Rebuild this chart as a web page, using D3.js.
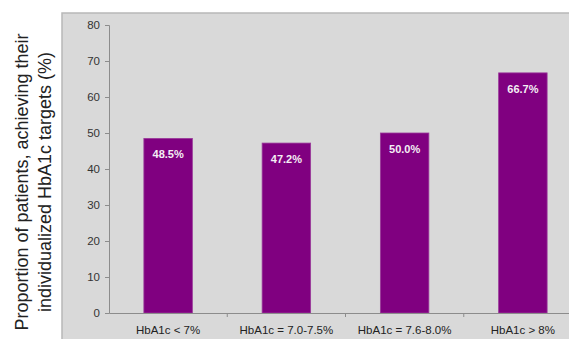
<!DOCTYPE html>
<html><head><meta charset="utf-8">
<script src="https://cdn.jsdelivr.net/npm/d3@7"></script>
<style>body{margin:0;background:#fff}svg{display:block}</style>
</head><body>
<script>
const categories = ["HbA1c < 7%", "HbA1c = 7.0-7.5%", "HbA1c = 7.6-8.0%", "HbA1c > 8%"];
const values = [48.5, 47.2, 50.0, 66.7];
const yTicks = [0, 10, 20, 30, 40, 50, 60, 70, 80];
const yTitle = ["Proportion of patients, achieving their", "individualized HbA1c targets (%)"];

const W = 569, H = 339;
const svg = d3.select("body").append("svg").attr("width", W).attr("height", H);

// panel
svg.append("rect").attr("x", 62).attr("y", 13).attr("width", W - 62 + 2).attr("height", H - 13 + 2)
  .attr("fill", "#d9d9d9").attr("stroke", "#b8b8b8").attr("stroke-width", 1.5);

const x = d3.scaleBand().domain(categories).range([109, 582]).paddingInner(0.59).paddingOuter(0.295);
const y = d3.scaleLinear().domain([0, 80]).range([313, 25]);

// bars
svg.selectAll("rect.bar").data(values).enter().append("rect").attr("class", "bar")
  .attr("x", (d, i) => x(categories[i])).attr("width", x.bandwidth())
  .attr("y", d => y(d)).attr("height", d => y(0) - y(d))
  .attr("fill", "#800080").attr("stroke", "#9a3a9a").attr("stroke-width", 0.8);

svg.selectAll("text.val").data(values).enter().append("text").attr("class", "val")
  .attr("x", (d, i) => x(categories[i]) + x.bandwidth() / 2)
  .attr("y", d => y(d) + 20)
  .attr("text-anchor", "middle").attr("fill", "#f4eef4")
  .attr("font-family", "Liberation Sans, Arial, sans-serif").attr("font-weight", "bold").attr("font-size", 11)
  .text(d => d.toFixed(1) + "%");

// y axis
const ya = svg.append("g").attr("transform", "translate(109,0)")
  .call(d3.axisLeft(y).tickValues(yTicks).tickSize(4).tickPadding(5).tickFormat(d3.format("d")));
ya.select(".domain").attr("stroke", "#8c8c8c");
ya.selectAll(".tick line").attr("stroke", "#8c8c8c");
ya.selectAll(".tick text").attr("fill", "#333").attr("font-size", 11.5).attr("font-family", "Liberation Sans, Arial, sans-serif");

// x axis
const xa = svg.append("g").attr("transform", "translate(0,313)")
  .call(d3.axisBottom(x).tickSize(0).tickPadding(13));
xa.select(".domain").attr("stroke", "#8c8c8c");
xa.selectAll(".tick text").attr("fill", "#222").attr("font-size", 11.5).attr("font-family", "Liberation Sans, Arial, sans-serif");
// category separators
const step = x.step();
categories.slice(1).forEach((c, i) => {
  const bx = x(c) - x.paddingInner() * step / 2;
  xa.append("line").attr("x1", bx).attr("x2", bx).attr("y1", 0).attr("y2", 4).attr("stroke", "#8c8c8c");
});

// y title
const t = svg.append("text").attr("transform", "translate(0,182) rotate(-90)")
  .attr("text-anchor", "middle").attr("fill", "#222")
  .attr("font-family", "Liberation Sans, Arial, sans-serif").attr("font-size", 18);
t.append("tspan").attr("x", 0).attr("y", 28).text(yTitle[0]);
t.append("tspan").attr("x", 0).attr("y", 51).text(yTitle[1]);
</script>
</body></html>
